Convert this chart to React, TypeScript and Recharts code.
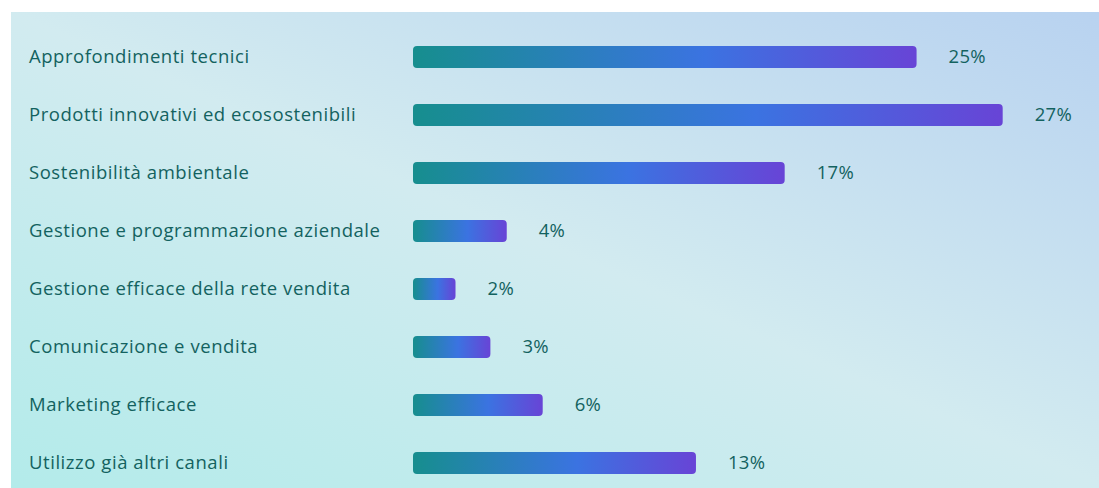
import { Bar, BarChart, LabelList, XAxis, YAxis } from "recharts";

const topics = [
  "Approfondimenti tecnici",
  "Prodotti innovativi ed ecosostenibili",
  "Sostenibilità ambientale",
  "Gestione e programmazione aziendale",
  "Gestione efficace della rete vendita",
  "Comunicazione e vendita",
  "Marketing efficace",
  "Utilizzo già altri canali",
];

// bar lengths
const shares = [23.1, 27.05, 17.05, 4.3, 1.95, 3.55, 5.95, 12.98];

// value labels as printed next to the bars
const pctLabels = ["25%", "27%", "17%", "4%", "2%", "3%", "6%", "13%"];

const data = topics.map((topic, i) => ({
  topic,
  share: shares[i],
  pct: pctLabels[i],
}));

const textColor = "#13625f";
const font = "'Open Sans', sans-serif";

function TopicTick(props: any) {
  const { y, payload } = props;
  return (
    <text
      x={18}
      y={y}
      dy={6}
      textAnchor="start"
      fill={textColor}
      fontSize={18.5}
      fontWeight={500}
      letterSpacing={0.55}
      fontFamily={font}
    >
      {payload.value}
    </text>
  );
}

function PctLabel(props: any) {
  const { x, y, width, height, index } = props;
  return (
    <text
      x={x + width + 32}
      y={y + height / 2}
      dy={6}
      textAnchor="start"
      fill={textColor}
      fontSize={18.5}
      fontWeight={500}
      letterSpacing={0.3}
      fontFamily={font}
    >
      {pctLabels[index]}
    </text>
  );
}

export default function App() {
  return (
    <div
      style={{
        position: "fixed",
        left: 11,
        top: 12,
        width: 1100,
        height: 476,
        overflow: "hidden",
        background:
          "linear-gradient(to top right, #b3ebea 0%, #d2ebf0 50%, #b8d2f0 100%)",
      }}
    >
      <BarChart
        width={1088}
        height={480}
        data={data}
        layout="vertical"
        margin={{ top: 16, right: 32, bottom: 0, left: 0 }}
        barSize={22}
      >
        <defs>
          <linearGradient id="barFill" x1="0" y1="0" x2="1" y2="0">
            <stop offset="0%" stopColor="#168e8e" />
            <stop offset="58%" stopColor="#3b73e1" />
            <stop offset="100%" stopColor="#6844d6" />
          </linearGradient>
        </defs>
        <XAxis type="number" domain={[0, 30]} hide />
        <YAxis
          type="category"
          dataKey="topic"
          width={402}
          axisLine={false}
          tickLine={false}
          tick={<TopicTick />}
        />
        <Bar
          dataKey="share"
          fill="url(#barFill)"
          radius={4}
          isAnimationActive={false}
        >
          <LabelList dataKey="pct" content={<PctLabel />} />
        </Bar>
      </BarChart>
    </div>
  );
}
